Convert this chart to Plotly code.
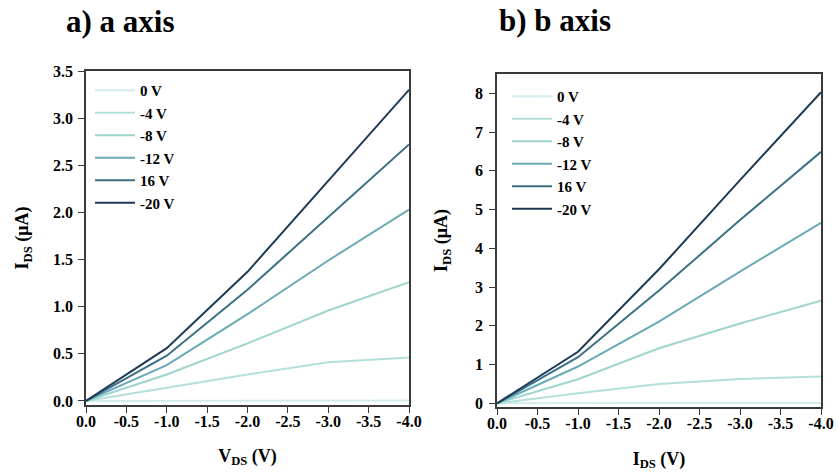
import plotly.graph_objects as go

# ---- data ----
vds = [0, -1, -2, -3, -4]
series_names = ["0 V", "-4 V", "-8 V", "-12 V", "16 V", "-20 V"]
colors = ["#d4ecee", "#b4e0db", "#9fd4cf", "#68a9b5", "#3b7087", "#1d3b56"]

a_0 = [0, 0.003, 0.005, 0.006, 0.006]
a_4 = [0, 0.14, 0.28, 0.41, 0.46]
a_8 = [0, 0.28, 0.61, 0.96, 1.26]
a_12 = [0, 0.38, 0.92, 1.49, 2.03]
a_16 = [0, 0.48, 1.18, 1.95, 2.72]
a_20 = [0, 0.56, 1.37, 2.34, 3.30]

b_0 = [0, 0.01, 0.01, 0.01, 0.01]
b_4 = [0, 0.26, 0.50, 0.63, 0.69]
b_8 = [0, 0.62, 1.42, 2.06, 2.65]
b_12 = [0, 0.95, 2.11, 3.40, 4.66]
b_16 = [0, 1.19, 2.91, 4.73, 6.49]
b_20 = [0, 1.33, 3.46, 5.76, 8.03]

x_tickvals = [0, -0.5, -1, -1.5, -2, -2.5, -3, -3.5, -4]
x_ticktext = ["0.0", "-0.5", "-1.0", "-1.5", "-2.0", "-2.5", "-3.0", "-3.5", "-4.0"]
ya_tickvals = [0, 0.5, 1, 1.5, 2, 2.5, 3, 3.5]
ya_ticktext = ["0.0", "0.5", "1.0", "1.5", "2.0", "2.5", "3.0", "3.5"]
yb_tickvals = [0, 1, 2, 3, 4, 5, 6, 7, 8]
yb_ticktext = ["0", "1", "2", "3", "4", "5", "6", "7", "8"]

a_series = [a_0, a_4, a_8, a_12, a_16, a_20]
b_series = [b_0, b_4, b_8, b_12, b_16, b_20]

FONT = "Liberation Serif"
fig = go.Figure()
for name, col, ys in zip(series_names, colors, a_series):
    fig.add_trace(go.Scatter(x=vds, y=ys, mode="lines", name=name,
                             line=dict(color=col, width=2),
                             xaxis="x", yaxis="y", legend="legend"))
for name, col, ys in zip(series_names, colors, b_series):
    fig.add_trace(go.Scatter(x=vds, y=ys, mode="lines", name=name,
                             line=dict(color=col, width=2),
                             xaxis="x2", yaxis="y2", legend="legend2"))

W, H = 838, 472
def fx(px):
    return px / W
def fy(py):
    return (H - py) / H

axis_common = dict(showgrid=False, zeroline=False, showline=True, mirror=True,
                   automargin=False,
                   linecolor="#3a3a3a", linewidth=1.5, ticks="outside",
                   ticklen=6, tickwidth=1.2, tickcolor="#3a3a3a",
                   tickfont=dict(family=FONT, size=16, color="black", weight="bold"))

title_font = dict(family=FONT, size=18, color="black")
legend_font = dict(family=FONT, size=15, color="black", weight="bold")

fig.update_layout(
    width=W, height=H,
    margin=dict(l=0, r=0, t=0, b=0, pad=0),
    paper_bgcolor="white", plot_bgcolor="white",
    font=dict(family=FONT, color="black"),
    xaxis=dict(domain=[fx(86), fx(409)], range=[0, -4], anchor="y",
               tickvals=x_tickvals, ticktext=x_ticktext, ticklabelstandoff=-5,
               title=dict(text="<b>V<sub>DS</sub> (V)</b>", font=title_font, standoff=20),
               **axis_common),
    yaxis=dict(domain=[fy(405), fy(71)], range=[-0.043, 3.5], anchor="x",
               tickvals=ya_tickvals, ticktext=ya_ticktext, ticklabelstandoff=2,
               title=dict(text="<b>I<sub>DS</sub> (μA)</b>", font=title_font, standoff=20),
               **axis_common),
    xaxis2=dict(domain=[fx(497), fx(821)], range=[0, -4], anchor="y2",
                tickvals=x_tickvals, ticktext=x_ticktext, ticklabelstandoff=-5,
                title=dict(text="<b>I<sub>DS</sub> (V)</b>", font=title_font, standoff=21),
                **axis_common),
    yaxis2=dict(domain=[fy(407), fy(74)], range=[-0.095, 8.5], anchor="x2",
                tickvals=yb_tickvals, ticktext=yb_ticktext, ticklabelstandoff=3,
                title=dict(text="<b>I<sub>DS</sub> (μA)</b>", font=title_font, standoff=23),
                **axis_common),
    legend=dict(x=fx(90), y=fy(74), xanchor="left", yanchor="top",
                bgcolor="rgba(0,0,0,0)", font=legend_font,
                tracegroupgap=0, itemwidth=40),
    legend2=dict(x=fx(507), y=fy(80), xanchor="left", yanchor="top",
                 bgcolor="rgba(0,0,0,0)", font=legend_font,
                 tracegroupgap=0, itemwidth=40),
    annotations=[
        dict(text="<b>a) a axis</b>", x=fx(64), y=fy(22), xref="paper", yref="paper",
             xanchor="left", yanchor="middle", showarrow=False,
             font=dict(family=FONT, size=31, color="black")),
        dict(text="<b>b) b axis</b>", x=fx(497), y=fy(20), xref="paper", yref="paper",
             xanchor="left", yanchor="middle", showarrow=False,
             font=dict(family=FONT, size=31, color="black")),
    ],
)

fig.write_html("out.html")
